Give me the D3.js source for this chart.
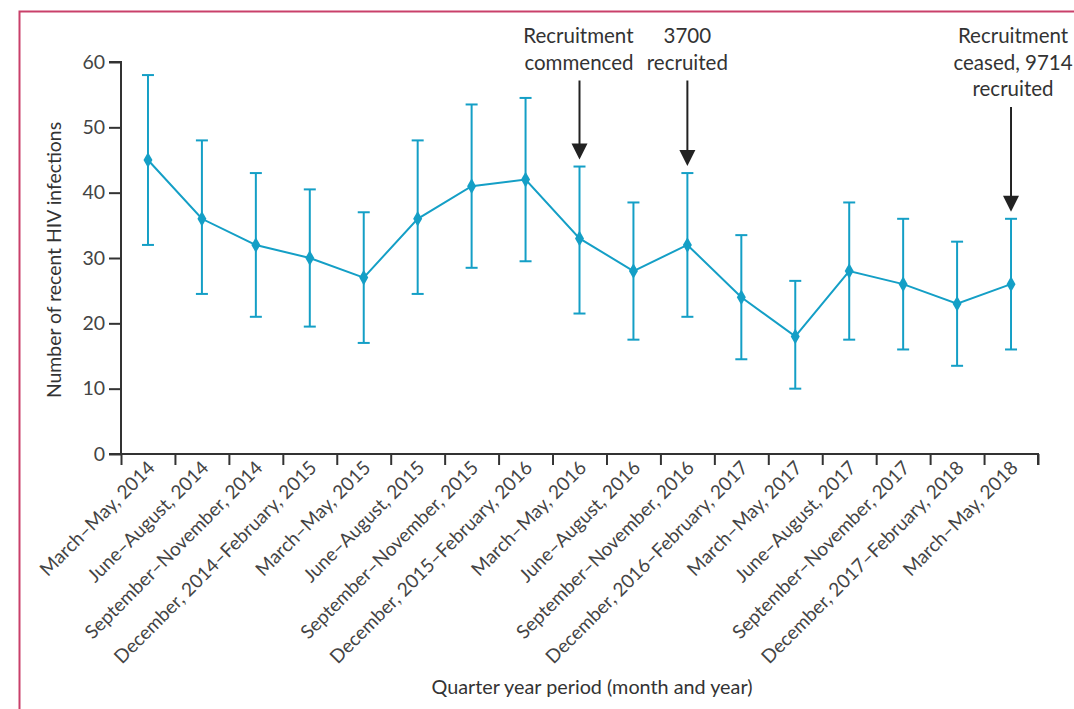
<!DOCTYPE html>
<html>
<head>
<meta charset="utf-8">
<script src="https://cdn.jsdelivr.net/npm/d3@7"></script>
<style>
  body { margin: 0; background: #fff; }
  svg text { font-family: Lato, "Open Sans", sans-serif; fill: #333; }
</style>
</head>
<body>
<svg id="drawing_region"></svg>
<script>
// quarter-year periods
const periods = [
    "March–May, 2014", "June–August, 2014", "September–November, 2014",
    "December, 2014–February, 2015", "March–May, 2015", "June–August, 2015",
    "September–November, 2015", "December, 2015–February, 2016", "March–May, 2016",
    "June–August, 2016", "September–November, 2016", "December, 2016–February, 2017",
    "March–May, 2017", "June–August, 2017", "September–November, 2017",
    "December, 2017–February, 2018", "March–May, 2018"
];
const infections = [45, 36, 32, 30, 27, 36, 41, 42, 33, 28, 32, 24, 18, 28, 26, 23, 26];
const ci_low  = [32, 24.5, 21, 19.5, 17, 24.5, 28.5, 29.5, 21.5, 17.5, 21, 14.5, 10, 17.5, 16, 13.5, 16];
const ci_high = [58, 48, 43, 40.5, 37, 48, 53.5, 54.5, 44, 38.5, 43, 33.5, 26.5, 38.5, 36, 32.5, 36];
const y_ticks = [0, 10, 20, 30, 40, 50, 60];

// annotations above chosen periods
const notes = [
    { period: "March–May, 2016", lines: ["Recruitment", "commenced"], anchor: "end", dx: 54 },
    { period: "September–November, 2016", lines: ["3700", "recruited"], anchor: "middle", dx: 0 },
    { period: "March–May, 2018", lines: ["Recruitment", "ceased, 9714", "recruited"], anchor: "middle", dx: 2 }
];

const W = 1074, H = 709;
const margin = {top: 62, left: 121, right: 36, bottom: 255};
const color = "#149fc6";

const svg = d3.select('#drawing_region')
    .attr('width', W)
    .attr('height', H);

// pink frame
svg.append('path')
    .attr('d', `M19.5,${H} V11.5 H${W}`)
    .attr('fill', 'none')
    .attr('stroke', '#c9406a')
    .attr('stroke-width', 2);

const inner_w = W - margin.left - margin.right;
const inner_h = H - margin.top - margin.bottom;

const xband = d3.scaleBand().domain(periods).range([margin.left, margin.left + inner_w]);
const xlin = d3.scaleLinear().domain([0, periods.length]).range([margin.left, margin.left + inner_w]);
const yscale = d3.scaleLinear().domain([0, 60]).range([margin.top + inner_h, margin.top]);
const cx = p => xband(p) + xband.bandwidth() / 2;

// y axis
const yaxis_group = svg.append('g')
    .attr('transform', `translate(${margin.left},0)`)
    .call(d3.axisLeft(yscale).tickValues(y_ticks).tickSize(12).tickPadding(4));

// x axis: ticks at period boundaries
const xaxis_group = svg.append('g')
    .attr('transform', `translate(0,${margin.top + inner_h})`)
    .call(d3.axisBottom(xlin).ticks(periods.length).tickSize(11).tickFormat(''));

[yaxis_group, xaxis_group].forEach(g => {
    g.select('.domain').attr('stroke', '#333').attr('stroke-width', 2);
    g.selectAll('.tick line').attr('stroke', '#333').attr('stroke-width', 2);
});
yaxis_group.selectAll('.tick text')
    .attr('font-size', 19.5)
    .style('fill', '#444');
xaxis_group.select('.domain').attr('d', `M${margin.left},0H${margin.left + inner_w}V11`);
yaxis_group.select('.domain').attr('d', `M-12,${margin.top}H0V${margin.top + inner_h}H-12`);

// rotated period labels
svg.append('g').selectAll('text')
    .data(periods)
    .join('text')
    .attr('transform', d => `translate(${cx(d) + 8},${margin.top + inner_h + 15}) rotate(-45)`)
    .attr('text-anchor', 'end')
    .attr('font-size', 19)
    .style('fill', '#444')
    .text(d => d);

// axis titles
svg.append('text')
    .attr('x', 592)
    .attr('y', 694)
    .attr('text-anchor', 'middle')
    .attr('font-size', 19.8)
    .text('Quarter year period (month and year)');

svg.append('text')
    .attr('transform', `translate(61,${(margin.top + margin.top + inner_h) / 2 + 2}) rotate(-90)`)
    .attr('text-anchor', 'middle')
    .attr('font-size', 19.4)
    .text('Number of recent HIV infections');

// error bars
const bars = svg.append('g').selectAll('g')
    .data(periods)
    .join('g');
bars.append('line')
    .attr('x1', d => cx(d)).attr('x2', d => cx(d))
    .attr('y1', (d, i) => yscale(ci_low[i]))
    .attr('y2', (d, i) => yscale(ci_high[i]))
    .attr('stroke', color).attr('stroke-width', 2);
[ci_low, ci_high].forEach(arr => {
    bars.append('line')
        .attr('x1', d => cx(d) - 6).attr('x2', d => cx(d) + 6)
        .attr('y1', (d, i) => yscale(arr[i]))
        .attr('y2', (d, i) => yscale(arr[i]))
        .attr('stroke', color).attr('stroke-width', 2);
});

// line + diamond markers
svg.append('path')
    .datum(periods)
    .attr('fill', 'none')
    .attr('stroke', color)
    .attr('stroke-width', 2)
    .attr('d', d3.line().x(d => cx(d)).y((d, i) => yscale(infections[i])));

svg.append('g').selectAll('path')
    .data(periods)
    .join('path')
    .attr('transform', (d, i) => `translate(${cx(d)},${yscale(infections[i])})`)
    .attr('d', d3.symbol(d3.symbolDiamond, 70))
    .attr('fill', color);

// annotations with arrows
notes.forEach(n => {
    const i = periods.indexOf(n.period);
    const x = cx(n.period);
    const top_line = 43;
    const g = svg.append('g');
    n.lines.forEach((t, k) => {
        g.append('text')
            .attr('x', x + n.dx)
            .attr('y', top_line + k * 26.5)
            .attr('text-anchor', n.anchor)
            .attr('font-size', 20.5)
            .text(t);
    });
    const y0 = top_line + (n.lines.length - 1) * 26.5 + 11;
    const y1 = yscale(ci_high[i]) - 7;
    g.append('line')
        .attr('x1', x).attr('x2', x)
        .attr('y1', y0).attr('y2', y1 - 12)
        .attr('stroke', '#222').attr('stroke-width', 2);
    g.append('path')
        .attr('d', `M${x - 8},${y1 - 16} L${x + 8},${y1 - 16} L${x},${y1} Z`)
        .attr('fill', '#222');
});
</script>
</body>
</html>
